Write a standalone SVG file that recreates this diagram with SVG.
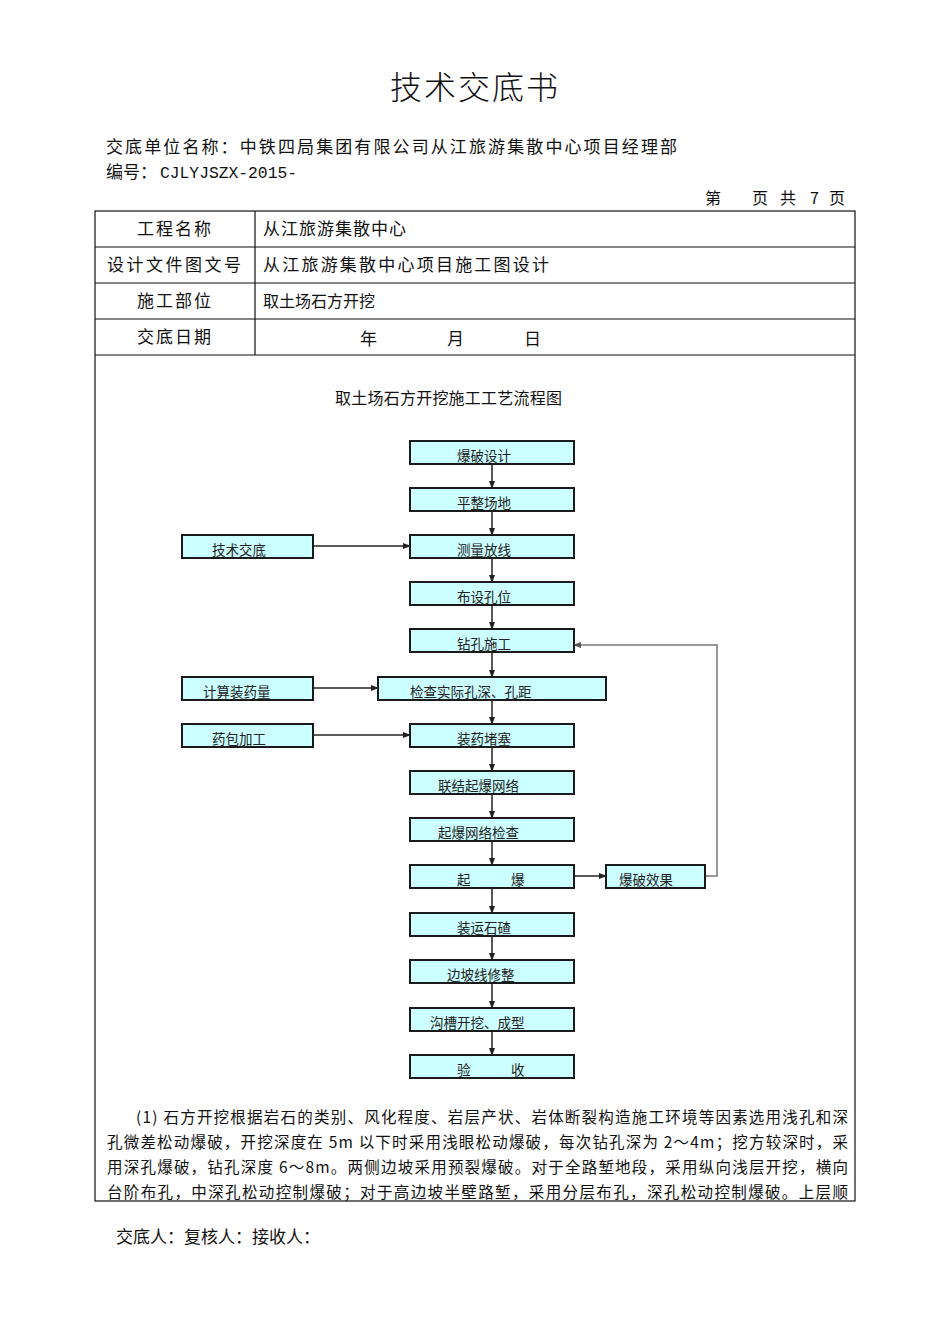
<svg xmlns="http://www.w3.org/2000/svg" width="950" height="1344" viewBox="0 0 950 1344">
<style>
.cjk{font-family:"Noto Sans CJK SC","Noto Sans",sans-serif;fill:#111}
.t{font-size:17px}
.bx{fill:#ccffff;stroke:#1a1a1a;stroke-width:2}
.bt{font-family:"Noto Sans CJK SC",sans-serif;font-size:13.5px;fill:#222}
.ln{stroke:#222;stroke-width:1.5;fill:none}
.fb{stroke:#777;stroke-width:1.5;fill:none}
.tb{stroke:#111;stroke-width:1.2;fill:none}
.p{font-family:"Noto Sans CJK SC",sans-serif;font-size:15.5px;fill:#111}
</style>
<defs>
<marker id="ah" markerWidth="8" markerHeight="8" refX="7" refY="4" orient="auto" markerUnits="userSpaceOnUse"><path d="M0,1 L8,4 L0,7 Z" fill="#222"/></marker>
<marker id="ag" markerWidth="8" markerHeight="8" refX="7" refY="4" orient="auto" markerUnits="userSpaceOnUse"><path d="M0,1 L8,4 L0,7 Z" fill="#555"/></marker>
</defs>
<rect width="950" height="1344" fill="#fff"/>
<g id="header">
<text class="cjk" x="475" y="99" font-size="32" text-anchor="middle" letter-spacing="2" font-weight="300">技术交底书</text>
<text class="cjk t" x="106" y="153" textLength="571" lengthAdjust="spacing">交底单位名称：中铁四局集团有限公司从江旅游集散中心项目经理部</text>
<text class="cjk t" x="106" y="178">编号：</text>
<text x="160" y="178" font-family="Liberation Mono,monospace" font-size="16" textLength="137" lengthAdjust="spacingAndGlyphs" fill="#111">CJLYJSZX-2015-</text>
<text class="cjk" font-size="16" y="204"><tspan x="705">第</tspan><tspan x="752">页</tspan><tspan x="780">共</tspan><tspan x="810">7</tspan><tspan x="829">页</tspan></text>
</g>
<g id="table">
<rect class="tb" x="95" y="211" width="760" height="990"/>
<line class="tb" x1="95" y1="247" x2="855" y2="247"/>
<line class="tb" x1="95" y1="283" x2="855" y2="283"/>
<line class="tb" x1="95" y1="319" x2="855" y2="319"/>
<line class="tb" x1="95" y1="355" x2="855" y2="355"/>
<line class="tb" x1="255" y1="211" x2="255" y2="355"/>
<text class="cjk t" x="175" y="235" text-anchor="middle" letter-spacing="2">工程名称</text>
<text class="cjk t" x="263" y="235" letter-spacing="1">从江旅游集散中心</text>
<text class="cjk t" x="107" y="271" textLength="134" lengthAdjust="spacing">设计文件图文号</text>
<text class="cjk t" x="263" y="271" textLength="286" lengthAdjust="spacing">从江旅游集散中心项目施工图设计</text>
<text class="cjk t" x="175" y="307" text-anchor="middle" letter-spacing="2">施工部位</text>
<text class="cjk" font-size="16" x="263" y="307">取土场石方开挖</text>
<text class="cjk t" x="175" y="343" text-anchor="middle" letter-spacing="2">交底日期</text>
<text class="cjk t" y="345"><tspan x="360">年</tspan><tspan x="447">月</tspan><tspan x="524">日</tspan></text>
</g>
<text id="flowtitle" class="cjk" font-size="16" x="335" y="404" textLength="227" lengthAdjust="spacing" fill="#333">取土场石方开挖施工工艺流程图</text>
<g id="connectors">
<line class="ln" x1="492" y1="464" x2="492" y2="488" marker-end="url(#ah)"/>
<line class="ln" x1="492" y1="511" x2="492" y2="535" marker-end="url(#ah)"/>
<line class="ln" x1="492" y1="558" x2="492" y2="582" marker-end="url(#ah)"/>
<line class="ln" x1="492" y1="605" x2="492" y2="629" marker-end="url(#ah)"/>
<line class="ln" x1="492" y1="652" x2="492" y2="677" marker-end="url(#ah)"/>
<line class="ln" x1="492" y1="700" x2="492" y2="724" marker-end="url(#ah)"/>
<line class="ln" x1="492" y1="747" x2="492" y2="771" marker-end="url(#ah)"/>
<line class="ln" x1="492" y1="794" x2="492" y2="818" marker-end="url(#ah)"/>
<line class="ln" x1="492" y1="841" x2="492" y2="865" marker-end="url(#ah)"/>
<line class="ln" x1="492" y1="888" x2="492" y2="913" marker-end="url(#ah)"/>
<line class="ln" x1="492" y1="936" x2="492" y2="960" marker-end="url(#ah)"/>
<line class="ln" x1="492" y1="983" x2="492" y2="1008" marker-end="url(#ah)"/>
<line class="ln" x1="492" y1="1031" x2="492" y2="1055" marker-end="url(#ah)"/>
<line class="ln" x1="313" y1="546" x2="410" y2="546" marker-end="url(#ah)"/>
<line class="ln" x1="313" y1="688" x2="378" y2="688" marker-end="url(#ah)"/>
<line class="ln" x1="313" y1="735" x2="410" y2="735" marker-end="url(#ah)"/>
<line class="ln" x1="574" y1="876" x2="606" y2="876" marker-end="url(#ah)"/>
<polyline class="fb" points="705,876 717,876 717,645 574,645" marker-end="url(#ag)"/>
</g>
<g id="n1"><rect class="bx" x="410" y="441" width="164" height="23"/><text class="bt" x="457" y="461">爆破设计</text></g>
<g id="n2"><rect class="bx" x="410" y="488" width="164" height="23"/><text class="bt" x="457" y="508">平整场地</text></g>
<g id="n3"><rect class="bx" x="410" y="535" width="164" height="23"/><text class="bt" x="457" y="555">测量放线</text></g>
<g id="n4"><rect class="bx" x="410" y="582" width="164" height="23"/><text class="bt" x="457" y="602">布设孔位</text></g>
<g id="n5"><rect class="bx" x="410" y="629" width="164" height="23"/><text class="bt" x="457" y="649">钻孔施工</text></g>
<g id="n6"><rect class="bx" x="378" y="677" width="228" height="23"/><text class="bt" x="410" y="697">检查实际孔深、孔距</text></g>
<g id="n7"><rect class="bx" x="410" y="724" width="164" height="23"/><text class="bt" x="457" y="744">装药堵塞</text></g>
<g id="n8"><rect class="bx" x="410" y="771" width="164" height="23"/><text class="bt" x="438" y="791">联结起爆网络</text></g>
<g id="n9"><rect class="bx" x="410" y="818" width="164" height="23"/><text class="bt" x="438" y="838">起爆网络检查</text></g>
<g id="n10"><rect class="bx" x="410" y="865" width="164" height="23"/><text class="bt" y="885"><tspan x="457">起</tspan><tspan x="511">爆</tspan></text></g>
<g id="n11"><rect class="bx" x="410" y="913" width="164" height="23"/><text class="bt" x="457" y="933">装运石碴</text></g>
<g id="n12"><rect class="bx" x="410" y="960" width="164" height="23"/><text class="bt" x="447" y="980">边坡线修整</text></g>
<g id="n13"><rect class="bx" x="410" y="1008" width="164" height="23"/><text class="bt" x="430" y="1028">沟槽开挖、成型</text></g>
<g id="n14"><rect class="bx" x="410" y="1055" width="164" height="23"/><text class="bt" y="1075"><tspan x="457">验</tspan><tspan x="511">收</tspan></text></g>
<g id="s1"><rect class="bx" x="182" y="535" width="131" height="23" stroke-width="1.5"/><text class="bt" x="212" y="555">技术交底</text></g>
<g id="s2"><rect class="bx" x="182" y="677" width="131" height="23" stroke-width="1.5"/><text class="bt" x="203" y="697">计算装药量</text></g>
<g id="s3"><rect class="bx" x="182" y="724" width="131" height="23" stroke-width="1.5"/><text class="bt" x="212" y="744">药包加工</text></g>
<g id="s4"><rect class="bx" x="606" y="865" width="99" height="23" stroke-width="1.5"/><text class="bt" x="619" y="885">爆破效果</text></g>
<g id="paragraph">
<text class="p" x="136" y="1123" textLength="712" lengthAdjust="spacing">(1) 石方开挖根据岩石的类别、风化程度、岩层产状、岩体断裂构造施工环境等因素选用浅孔和深</text>
<text class="p" x="107" y="1148" textLength="741" lengthAdjust="spacing">孔微差松动爆破，开挖深度在 5m 以下时采用浅眼松动爆破，每次钻孔深为 2～4m；挖方较深时，采</text>
<text class="p" x="107" y="1173" textLength="741" lengthAdjust="spacing">用深孔爆破，钻孔深度 6～8m。两侧边坡采用预裂爆破。对于全路堑地段，采用纵向浅层开挖，横向</text>
<text class="p" x="107" y="1198" textLength="741" lengthAdjust="spacing">台阶布孔，中深孔松动控制爆破；对于高边坡半壁路堑，采用分层布孔，深孔松动控制爆破。上层顺</text>
</g>
<text id="footer" class="cjk" font-size="17" x="116" y="1243">交底人：复核人：接收人：</text>
</svg>
